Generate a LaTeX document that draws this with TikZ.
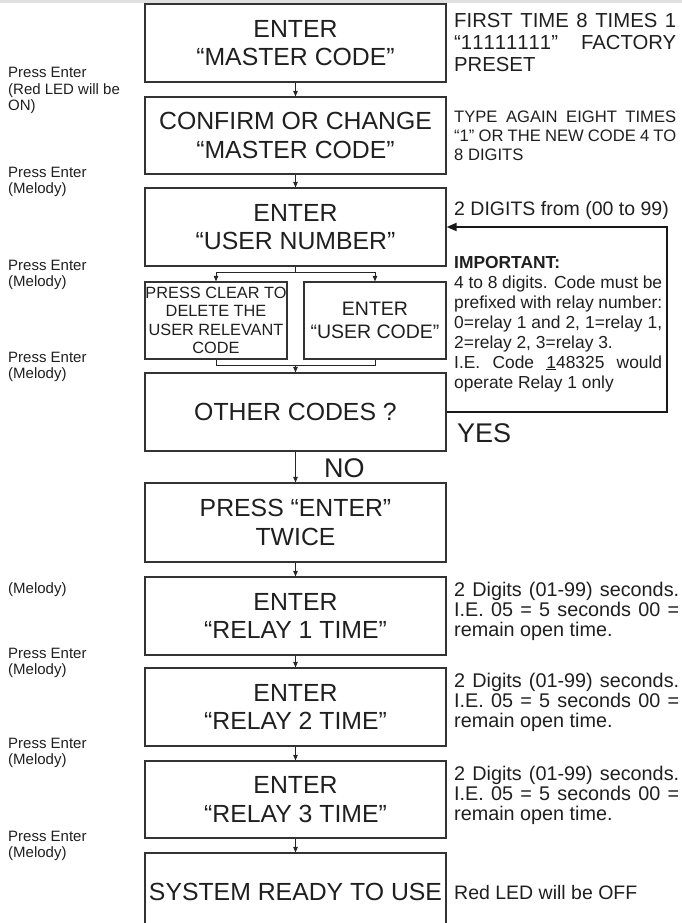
\documentclass[tikz,border=0pt]{standalone}
\usepackage{fontspec}
\setmainfont{Liberation Sans}
\usetikzlibrary{arrows.meta}
\newcommand{\tl}[1]{\begin{tabular}[t]{@{}l@{}}#1\end{tabular}}
\newcommand{\jl}[2]{\makebox[#1][s]{#2}}
\newcommand{\one}{\mbox{1}}
\begin{document}
\begin{tikzpicture}[x=1pt,y=-1pt,
  every node/.style={text=black!88},
  mainbox/.style={draw=black!80, line width=1.2pt, inner sep=0pt, minimum width=301pt, align=center, font=\fontsize{24.8}{28.5}\selectfont},
  smallbox/.style={draw=black!80, line width=1.2pt, inner sep=0pt, minimum width=142pt, minimum height=77pt, align=center},
  flow/.style={draw=black!85, line width=0.9pt, -{Triangle[length=5.5pt,width=4.5pt]}},
  plain/.style={draw=black!85, line width=0.9pt},
  loopline/.style={draw=black!90, line width=2pt, -{Triangle[length=10pt,width=8pt]}},
  side/.style={anchor=base west, inner sep=0pt, font=\fontsize{15}{16.5}\selectfont},
  note/.style={anchor=base west, inner sep=0pt},
]
\useasboundingbox (0,0) rectangle (682,923);
\clip (0,0) rectangle (682,923);
\fill[black!12] (0,0) rectangle (682,3);

% main flow boxes
\node[mainbox, minimum height=78pt] (b1) at (295.5,43) {ENTER\\“MASTER CODE”};
\node[mainbox, minimum height=77pt] (b2) at (295.5,135.5) {CONFIRM OR CHANGE\\“MASTER CODE”};
\node[mainbox, minimum height=78pt] (b3) at (295.5,227) {ENTER\\“USER NUMBER”};
\node[smallbox, font=\fontsize{16.3}{18.3}\selectfont] (sl) at (216,320.5) {PRESS CLEAR TO\\DELETE THE\\USER RELEVANT\\CODE};
\node[smallbox, font=\fontsize{19.5}{23}\selectfont] (sr) at (375,320.5) {ENTER\\“USER CODE”};
\node[mainbox, minimum height=78pt] (b4) at (295.5,412) {OTHER CODES ?};
\node[mainbox, minimum height=79pt] (b5) at (295.5,522.5) {PRESS “ENTER”\\TWICE};
\node[mainbox, minimum height=78pt] (b6) at (295.5,616) {ENTER\\“RELAY 1 TIME”};
\node[mainbox, minimum height=78pt] (b7) at (295.5,707) {ENTER\\“RELAY 2 TIME”};
\node[mainbox, minimum height=77pt] (b8) at (295.5,799.5) {ENTER\\“RELAY 3 TIME”};
\node[mainbox, minimum height=78pt] (b9) at (295.5,892) {SYSTEM READY TO USE};

% connectors
\draw[flow] (b1) -- (b2);
\draw[flow] (b2) -- (b3);
\draw[plain] (b3.south) -- ++(0,6) coordinate (sp);
\draw[flow] (sp) -| (sl.north);
\draw[flow] (sp) -| (sr.north);
\draw[plain] (sl.south) -- ++(0,6) coordinate (ml) -- (ml -| sr.south) -- (sr.south);
\draw[flow] (ml -| b4.north) -- (b4.north);
\draw[flow] (b4) -- (b5);
\draw[flow] (b5) -- (b6);
\draw[flow] (b6) -- (b7);
\draw[flow] (b7) -- (b8);
\draw[flow] (b8) -- (b9);
\coordinate (lr) at (667,300);
\draw[loopline] (b4.east) -| (lr) |- (b3.east);

\node[note, font=\fontsize{27}{27}\selectfont] (no) at (324,477) {NO};
\node[note, font=\fontsize{27}{27}\selectfont] (yes) at (457,442) {YES};

% left labels
\node[side] (l1) at (8,78) {\tl{Press Enter\\(Red LED will be\\ON)}};
\node[side] (l2) at (8,177) {\tl{Press Enter\\(Melody)}};
\node[side] (l3) at (8,270) {\tl{Press Enter\\(Melody)}};
\node[side] (l4) at (8,362) {\tl{Press Enter\\(Melody)}};
\node[side] (l5) at (8,593) {\tl{(Melody)}};
\node[side] (l6) at (8,658) {\tl{Press Enter\\(Melody)}};
\node[side] (l7) at (8,748) {\tl{Press Enter\\(Melody)}};
\node[side] (l8) at (8,841) {\tl{Press Enter\\(Melody)}};

% right notes
\node[note, font=\fontsize{20.3}{22}\selectfont] (r1) at (454,28) {\tl{\jl{222pt}{FIRST TIME 8 TIMES 1}\\\jl{222pt}{“\one\one\one\one\one\one\one\one” FACTORY}\\PRESET}};
\node[note, font=\fontsize{16.6}{19.5}\selectfont] (r2) at (454,122) {\tl{\jl{222pt}{TYPE AGAIN EIGHT TIMES}\\\jl{222pt}{“1” OR THE NEW CODE 4 TO}\\8 DIGITS}};
\node[note, font=\fontsize{19.5}{22}\selectfont] (r3) at (454,215) {2 DIGITS from (00 to 99)};
\node[note, font=\fontsize{17.4}{20}\selectfont] (r4) at (454,268) {\tl{\textbf{IMPORTANT:}\\\jl{208pt}{4 to 8 digits. Code must be}\\\jl{208pt}{prefixed with relay number:}\\\jl{208pt}{0=relay 1 and 2, 1=relay 1,}\\2=relay 2, 3=relay 3.\\\jl{208pt}{I.E. Code \underline{1}48325 would}\\operate Relay 1 only}};
\node[note, font=\fontsize{19.8}{19.8}\selectfont] (r5) at (454,596) {\tl{\jl{225pt}{2 Digits (01-99) seconds.}\\\jl{225pt}{I.E. 05 = 5 seconds 00 =}\\remain open time.}};
\node[note, font=\fontsize{19.8}{19.8}\selectfont] (r6) at (454,687) {\tl{\jl{225pt}{2 Digits (01-99) seconds.}\\\jl{225pt}{I.E. 05 = 5 seconds 00 =}\\remain open time.}};
\node[note, font=\fontsize{19.8}{19.8}\selectfont] (r7) at (454,780) {\tl{\jl{225pt}{2 Digits (01-99) seconds.}\\\jl{225pt}{I.E. 05 = 5 seconds 00 =}\\remain open time.}};
\node[note, font=\fontsize{19.5}{22}\selectfont] (r8) at (454,899) {Red LED will be OFF};
\end{tikzpicture}
\end{document}
